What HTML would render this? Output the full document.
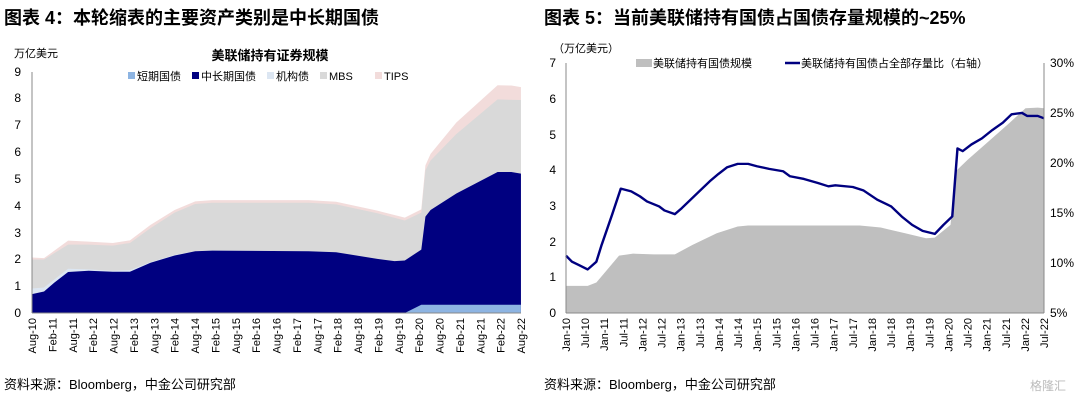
<!DOCTYPE html>
<html><head><meta charset="utf-8"><style>
body{margin:0;background:#fff;}
svg text{font-family:"Liberation Sans","Noto Sans CJK SC",sans-serif;}
</style></head><body>
<svg width="1080" height="401" viewBox="0 0 1080 401" xmlns="http://www.w3.org/2000/svg">
<rect width="1080" height="401" fill="#fff"/>
<text x="4" y="24" font-size="18" font-weight="bold" fill="#000">图表 4：本轮缩表的主要资产类别是中长期国债</text>
<text x="544" y="24" font-size="18" font-weight="bold" fill="#000">图表 5：当前美联储持有国债占国债存量规模的~25%</text>
<text x="4" y="389" font-size="13" fill="#000">资料来源：Bloomberg，中金公司研究部</text>
<text x="544" y="389" font-size="13" fill="#000">资料来源：Bloomberg，中金公司研究部</text>
<text x="1030" y="390" font-size="12" fill="#bbb">格隆汇</text>

<!-- LEFT CHART -->
<text x="14" y="57" font-size="11">万亿美元</text>
<text x="270" y="60" font-size="13" font-weight="bold" text-anchor="middle">美联储持有证券规模</text>
<g font-size="11">
<rect x="128" y="72" width="7" height="7" fill="#8db4e2"/><text x="137" y="80">短期国债</text>
<rect x="192" y="72" width="7" height="7" fill="#000080"/><text x="201" y="80">中长期国债</text>
<rect x="267" y="72" width="7" height="7" fill="#dce6f2"/><text x="276" y="80">机构债</text>
<rect x="320" y="72" width="7" height="7" fill="#d9d9d9"/><text x="329" y="80">MBS</text>
<rect x="375" y="72" width="7" height="7" fill="#f2dcdb"/><text x="384" y="80">TIPS</text>
</g>
<g transform="translate(-0.64,31.73) scale(0.3436,0.3301)">
<polygon fill="#f2dcdb" points="95,852 95,684 130,686 200,633 260,636 330,640 380,632 440,585 510,540 570,514 620,510 900,510 980,515 1100,542 1180,563 1228,538 1240,405 1255,370 1330,275 1450,162 1490,163 1518,168 1518,852"/>
<polygon fill="#d9d9d9" points="95,852 95,690 130,690 200,645 260,645 330,648 380,640 440,595 510,548 570,522 620,518 900,518 980,523 1100,550 1180,572 1228,548 1240,420 1255,390 1330,310 1450,205 1518,207 1518,852"/>
<polygon fill="#dce6f2" points="95,852 95,778 130,775 200,718 260,720 330,724 380,722 440,698 510,676 570,665 620,663 900,665 980,668 1100,688 1150,695 1180,693 1228,660 1240,560 1255,540 1330,490 1450,425 1490,425 1518,430 1518,852"/>
<polygon fill="#000080" points="95,852 95,795 130,787 160,760 200,728 260,724 330,727 380,727 440,700 510,678 570,665 620,663 900,665 980,668 1100,688 1150,695 1180,693 1228,660 1240,560 1255,540 1330,490 1450,425 1490,425 1518,430 1518,852"/>
<polygon fill="#8db4e2" points="1180,852 1228,827 1518,827 1518,852"/>
</g>
<line x1="32" y1="72" x2="32" y2="313" stroke="#888" stroke-width="1"/>
<line x1="32" y1="313" x2="521" y2="313" stroke="#888" stroke-width="1"/>
<g font-size="12" text-anchor="end">
<text x="21" y="317">0</text><text x="21" y="290">1</text><text x="21" y="263">2</text><text x="21" y="237">3</text><text x="21" y="210">4</text><text x="21" y="183">5</text><text x="21" y="156">6</text><text x="21" y="129">7</text><text x="21" y="102">8</text><text x="21" y="76">9</text>
</g>
<g id="lx" font-size="11" text-anchor="end"></g>

<!-- RIGHT CHART -->
<text x="553" y="52" font-size="11">（万亿美元）</text>
<rect x="636" y="59" width="16" height="8" fill="#bfbfbf"/>
<text x="653" y="67" font-size="11">美联储持有国债规模</text>
<line x1="785" y1="63" x2="800" y2="63" stroke="#000080" stroke-width="2.5"/>
<text x="801" y="67" font-size="11">美联储持有国债占全部存量比（右轴）</text>
<g transform="translate(538.8,30.5) scale(0.3489,0.3351)">
<polygon fill="#bfbfbf" points="78,843 78,762 140,762 165,752 195,715 230,672 270,666 330,668 390,668 440,640 510,605 570,585 600,582 920,582 980,588 1050,605 1110,620 1135,618 1180,580 1195,420 1230,385 1290,330 1350,275 1395,232 1430,230 1448,232 1448,843"/>
<polyline fill="none" stroke="#000080" stroke-width="7" stroke-linejoin="round" points="78,672 95,690 115,700 140,713 165,690 180,640 210,550 235,472 265,480 290,495 310,510 345,525 360,537 390,548 410,530 435,505 460,480 490,450 515,428 540,408 570,398 600,398 625,405 660,413 700,420 720,435 760,443 800,455 830,465 850,462 900,467 930,477 970,505 1010,525 1040,555 1070,580 1100,598 1135,607 1160,580 1185,555 1200,352 1215,360 1240,340 1270,322 1300,297 1330,275 1355,250 1385,246 1400,255 1430,255 1448,262"/>
</g>
<line x1="566" y1="63" x2="566" y2="313" stroke="#888"/>
<line x1="1044" y1="63" x2="1044" y2="313" stroke="#888"/>
<line x1="566" y1="313" x2="1044" y2="313" stroke="#888"/>
<g font-size="12" text-anchor="end">
<text x="556" y="317">0</text><text x="556" y="281">1</text><text x="556" y="246">2</text><text x="556" y="210">3</text><text x="556" y="174">4</text><text x="556" y="139">5</text><text x="556" y="103">6</text><text x="556" y="67">7</text>
</g>
<g font-size="12">
<text x="1050" y="317">5%</text><text x="1050" y="267">10%</text><text x="1050" y="217">15%</text><text x="1050" y="167">20%</text><text x="1050" y="117">25%</text><text x="1050" y="67">30%</text>
</g>
<g id="rx" font-size="11" text-anchor="end"></g>
</svg>
<script>
var ns="http://www.w3.org/2000/svg";
function lab(g,x,t){var e=document.createElementNS(ns,"text");e.setAttribute("transform","translate("+(x+4)+",318) rotate(-90)");e.textContent=t;g.appendChild(e);}
var lx=document.getElementById("lx");
for(var i=0;i<25;i++){var m=i%2==0?"Aug-":"Feb-";var y=10+Math.ceil(i/2);lab(lx,32+i*489/24,m+y);}
var rx=document.getElementById("rx");
for(var i=0;i<26;i++){var m=i%2==0?"Jan-":"Jul-";var y=10+Math.floor(i/2);lab(rx,566+i*478/25,m+y);}
</script>
</body></html>
